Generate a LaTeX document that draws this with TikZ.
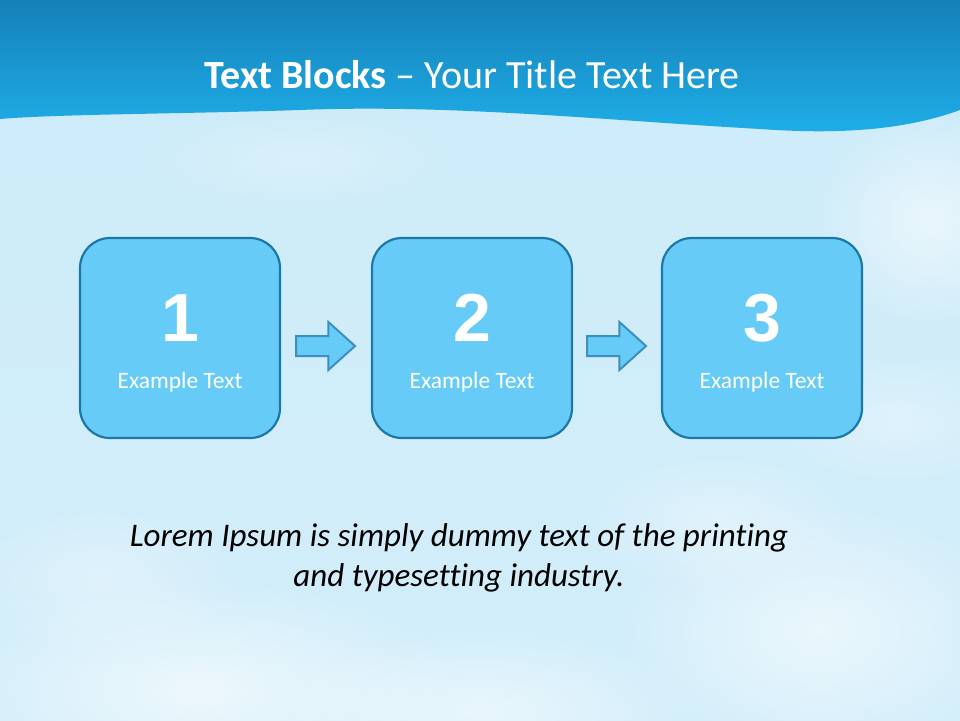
\documentclass[tikz,border=0pt]{standalone}
\usepackage{fontspec}
\setmainfont[Ligatures=NoCommon]{Carlito}
\newfontfamily\numfont{Liberation Sans}
\usetikzlibrary{shapes.arrows,fadings,calc}
\tikzfading[name=softcirc, inner color=transparent!0, outer color=transparent!100]
\definecolor{bandtop}{HTML}{1580B8}
\definecolor{bandbot}{HTML}{1FAEE8}
\definecolor{skytop}{HTML}{CDEBF9}
\definecolor{skybot}{HTML}{D3EEFA}
\definecolor{boxfill}{HTML}{66CBF6}
\definecolor{boxline}{HTML}{1B78A8}
\definecolor{arrline}{HTML}{3C90C0}
\tikzset{
  stepbox/.style={draw=boxline, line width=2.2pt, fill=boxfill, rounded corners=30pt,
    minimum width=200pt, minimum height=200pt, inner sep=0pt},
  bignum/.style={text=white, font=\numfont\bfseries\fontsize{68}{68}\selectfont},
  smalltxt/.style={text=white, font=\fontsize{23.5}{26}\selectfont},
  blockarrow/.style={single arrow, draw=arrline, line width=2pt, fill=boxfill,
    minimum height=59pt, minimum width=46pt, inner sep=0pt, text height=18pt,
    single arrow head extend=14pt, single arrow tip angle=84, anchor=center},
  cloud/.style={fill=white, path fading=softcirc}
}
\begin{document}
\begin{tikzpicture}[x=1pt,y=-1pt]
\useasboundingbox (0,0) rectangle (960,720);
% sky
\shade[top color=skytop, bottom color=skybot] (0,0) rectangle (960,720);
% soft clouds
\fill[cloud, opacity=0.6] (200,690) ellipse (260 and 110);
\fill[cloud, opacity=0.5] (480,710) ellipse (220 and 80);
\fill[cloud, opacity=0.55] (820,630) ellipse (200 and 130);
\fill[cloud, opacity=0.35] (720,520) ellipse (140 and 70);
\fill[cloud, opacity=0.3] (100,580) ellipse (140 and 80);
\fill[cloud, opacity=0.55] (930,220) ellipse (120 and 110);
\fill[cloud, opacity=0.3] (900,420) ellipse (140 and 70);
\fill[cloud, opacity=0.25] (300,160) ellipse (160 and 50);
% banner
\shade[top color=bandtop, bottom color=bandbot]
  (0,0) -- (960,0) -- (960,110)
  .. controls (900,132) and (830,134) .. (760,129)
  .. controls (600,120) and (450,104) .. (300,110)
  .. controls (180,114) and (60,114) .. (0,119) -- cycle;
\node (title) at (472,75) {\color{white}\fontsize{40}{46}\selectfont\textbf{Text Blocks} – Your Title Text Here};
% boxes
\node[stepbox] (b1) at (180,338) {};
\node[stepbox] (b2) at (472,338) {};
\node[stepbox] (b3) at (762,338) {};
\foreach \b/\n in {b1/1,b2/2,b3/3}{
  \node[bignum] (\b num) at ([yshift=20pt]\b.center) {\n};
  \node[smalltxt] (\b txt) at ([yshift=-44pt]\b.center) {Example Text};
}
% arrows
\node[blockarrow] (a1) at ($(b1.east)!0.5!(b2.west)+(-6,8)$) {};
\node[blockarrow] (a2) at ($(b2.east)!0.5!(b3.west)+(-6,8)$) {};
% body text
\node[align=center, font=\itshape\fontsize{33}{40}\selectfont] (body) at (459,558)
  {Lorem Ipsum is simply dummy text of the printing\\and typesetting industry.};
\end{tikzpicture}
\end{document}
